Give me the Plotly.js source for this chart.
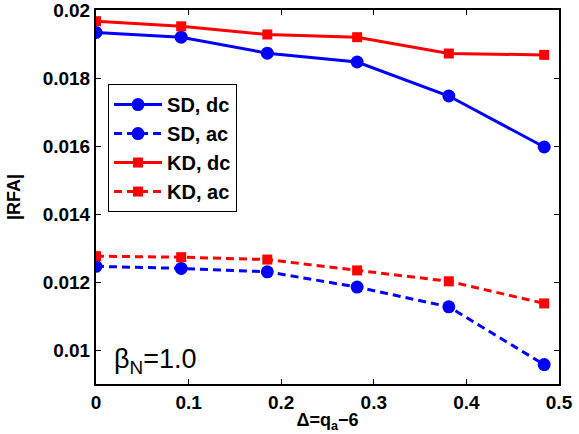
<!DOCTYPE html>
<html><head><meta charset="utf-8">
<script src="https://cdn.plot.ly/plotly-3.0.1.min.js"></script>
<style>html,body{margin:0;padding:0;background:#fff}#c{width:579px;height:434px}</style>
</head><body><div id="c"></div>
<script>
const xVals = [0, 0.092, 0.185, 0.282, 0.381, 0.484];
const sdDc = [0.01934, 0.0192, 0.01873, 0.01847, 0.01747, 0.01597];
const sdAc = [0.01246, 0.0124, 0.01230, 0.01185, 0.01127, 0.00957];
const kdDc = [0.01967, 0.01952, 0.01928, 0.0192, 0.01872, 0.01868];
const kdAc = [0.01276, 0.01273, 0.01266, 0.01234, 0.01202, 0.01137];
const names = ['SD, dc', 'SD, ac', 'KD, dc', 'KD, ac'];
const yTicks = [0.01, 0.012, 0.014, 0.016, 0.018, 0.02];
const yTickText = ['0.01', '0.012', '0.014', '0.016', '0.018', '0.02'];
const xTicks = [0, 0.1, 0.2, 0.3, 0.4, 0.5];
const xTickText = ['0', '0.1', '0.2', '0.3', '0.4', '0.5'];

const blue = '#0000ff', red = '#ff0000';
function tr(y, name, color, dash, symbol, msize) {
  return {x: xVals, y: y, name: name, type: 'scatter', mode: 'lines+markers',
    line: {color: color, width: 3, dash: dash},
    marker: {color: color, symbol: symbol, size: msize}};
}
const data = [
  tr(sdDc, names[0], blue, 'solid', 'circle', 13),
  tr(sdAc, names[1], blue, '8px,5px', 'circle', 13),
  tr(kdDc, names[2], red, 'solid', 'square', 10),
  tr(kdAc, names[3], red, '8px,5px', 'square', 10)
];
const fam = 'Liberation Sans, Arial, sans-serif';
const layout = {
  width: 579, height: 434,
  margin: {l: 96, r: 20, t: 10, b: 50},
  paper_bgcolor: '#fff', plot_bgcolor: '#fff',
  font: {family: fam, size: 19, color: '#000'},
  showlegend: true,
  legend: {x: 0.026, y: 0.802, xanchor: 'left', yanchor: 'top',
    bordercolor: '#000', borderwidth: 1, bgcolor: '#fff',
    itemwidth: 48,
    font: {family: fam, size: 20, weight: 'bold', color: '#000'},
    tracegroupgap: 0},
  xaxis: {range: [0, 0.5], tickvals: xTicks, ticktext: xTickText,
    ticks: 'inside', ticklen: 5, tickwidth: 1, tickcolor: '#000',
    showline: true, linecolor: '#000', linewidth: 2, mirror: 'ticks',
    showgrid: false, zeroline: false, ticklabeloverflow: 'allow',
    tickfont: {family: fam, size: 19, weight: 'bold', color: '#000'},
    title: {text: 'Δ=q<sub>a</sub>−6', standoff: 2,
      font: {family: fam, size: 18, weight: 'bold', color: '#000'}}},
  yaxis: {range: [0.009, 0.02], tickvals: yTicks, ticktext: yTickText,
    ticks: 'inside', ticklen: 5, tickwidth: 1, tickcolor: '#000',
    showline: true, linecolor: '#000', linewidth: 2, mirror: 'ticks',
    showgrid: false, zeroline: false, ticklabeloverflow: 'allow',
    tickfont: {family: fam, size: 19, weight: 'bold', color: '#000'},
    title: {text: '|RFA|', standoff: 17,
      font: {family: fam, size: 18, weight: 'bold', color: '#000'}}},
  annotations: [{xref: 'paper', yref: 'paper', x: 0.035, y: 0.01,
    xanchor: 'left', yanchor: 'bottom', showarrow: false,
    text: 'β<sub>N</sub>=1.0',
    font: {family: fam, size: 27, color: '#000'}}]
};
Plotly.newPlot('c', data, layout, {displayModeBar: false, staticPlot: true});
</script></body></html>
